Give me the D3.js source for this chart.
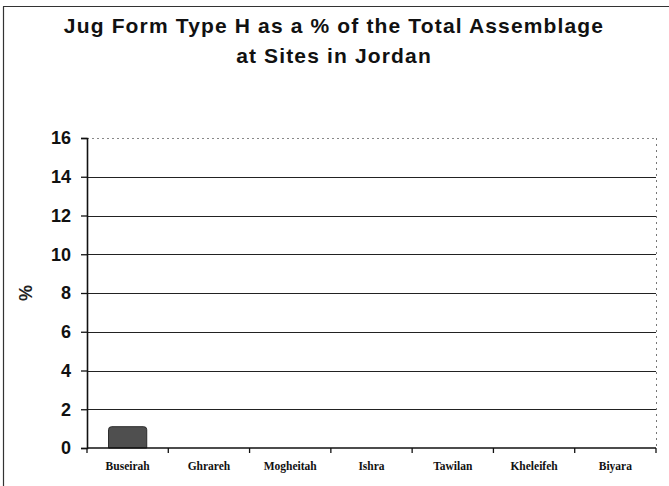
<!DOCTYPE html>
<html>
<head>
<meta charset="utf-8">
<script src="https://cdn.jsdelivr.net/npm/d3@7"></script>
<style>
  html, body { margin: 0; padding: 0; background: #fff; }
  svg { display: block; }
</style>
</head>
<body>
<svg id="chart" width="669" height="486"></svg>
<script>
// Sites and the share of jug form type H at each (percent of total assemblage)
const sites = ["Buseirah", "Ghrareh", "Mogheitah", "Ishra", "Tawilan", "Kheleifeh", "Biyara"];
const percentValues = [1.1, 0, 0, 0, 0, 0, 0];
const yTickValues = [0, 2, 4, 6, 8, 10, 12, 14, 16];
const titleLines = ["Jug Form Type H as a % of the Total Assemblage", "at Sites in Jordan"];

const svg = d3.select("#chart");
const W = 669, H = 486;
const plot = { left: 87, right: 656, top: 138, bottom: 448 };

// outer frame (left and top edges)
svg.append("line").attr("x1", 3.5).attr("x2", 3.5).attr("y1", 6.5).attr("y2", H)
  .attr("stroke", "#333").attr("stroke-width", 1.2);
svg.append("line").attr("x1", 3).attr("x2", W).attr("y1", 6.5).attr("y2", 6.5)
  .attr("stroke", "#333").attr("stroke-width", 1.2);

// title
svg.append("g").selectAll("text").data(titleLines).join("text")
  .attr("x", 334)
  .attr("y", (d, i) => 33 + i * 30)
  .attr("text-anchor", "middle")
  .attr("font-family", "Liberation Sans, Arial, sans-serif")
  .attr("font-weight", "bold")
  .attr("font-size", 21)
  .attr("letter-spacing", 1.15)
  .attr("fill", "#111")
  .text(d => d);

const x = d3.scaleBand().domain(sites).range([plot.left, plot.right])
  .paddingInner(0.53).paddingOuter(0.265);
const y = d3.scaleLinear().domain([0, 16]).range([plot.bottom, plot.top]);

// horizontal gridlines
svg.append("g").selectAll("line").data(yTickValues.filter(v => v > 0)).join("line")
  .attr("x1", plot.left).attr("x2", plot.right)
  .attr("y1", d => Math.round(y(d)) + 0.5).attr("y2", d => Math.round(y(d)) + 0.5)
  .attr("stroke", d => d === 16 ? "#888" : "#222")
  .attr("stroke-width", d => d === 16 ? 1 : 1.1)
  .attr("stroke-dasharray", d => d === 16 ? "2,3" : null);

// right edge of plot area (dotted)
svg.append("line").attr("x1", plot.right + 0.5).attr("x2", plot.right + 0.5)
  .attr("y1", plot.top).attr("y2", plot.bottom)
  .attr("stroke", "#777").attr("stroke-width", 1).attr("stroke-dasharray", "2,4");

// bars
const barTopRound = 3;
svg.append("g").selectAll("path").data(sites.map((s, i) => ({ site: s, v: percentValues[i] })).filter(d => d.v > 0))
  .join("path")
  .attr("d", d => {
    const x0 = x(d.site), w = x.bandwidth(), y0 = y(d.v), yb = y(0), r = barTopRound;
    return `M${x0},${yb}V${y0 + r}Q${x0},${y0} ${x0 + r},${y0}H${x0 + w - r}Q${x0 + w},${y0} ${x0 + w},${y0 + r}V${yb}Z`;
  })
  .attr("fill", "#4f4f4f")
  .attr("stroke", "#2a2a2a")
  .attr("stroke-width", 1);

// y axis
const yAxis = d3.axisLeft(y).tickValues(yTickValues).tickSize(6).tickPadding(10).tickFormat(d3.format("d"));
const gy = svg.append("g").attr("transform", `translate(${plot.left},0)`).call(yAxis);
gy.select(".domain").attr("stroke", "#111").attr("stroke-width", 1.6);
gy.selectAll(".tick line").attr("stroke", "#111").attr("stroke-width", 1.3);
gy.selectAll(".tick text")
  .attr("font-family", "Liberation Sans, Arial, sans-serif")
  .attr("font-weight", "bold")
  .attr("font-size", 18)
  .attr("fill", "#111");

// x axis: baseline with tick marks at category boundaries
const gx = svg.append("g").attr("transform", `translate(0,${plot.bottom})`);
gx.append("line").attr("x1", plot.left).attr("x2", plot.right).attr("y1", 0).attr("y2", 0)
  .attr("stroke", "#111").attr("stroke-width", 1.6);
const boundaries = sites.map(s => x(s) - x.step() * x.paddingOuter()).concat([plot.right]);
gx.selectAll("line.tk").data(boundaries).join("line").attr("class", "tk")
  .attr("x1", d => d).attr("x2", d => d).attr("y1", 0).attr("y2", 5)
  .attr("stroke", "#111").attr("stroke-width", 1.3);
gx.selectAll("text").data(sites).join("text")
  .attr("x", d => x(d) + x.bandwidth() / 2)
  .attr("y", 22)
  .attr("text-anchor", "middle")
  .attr("font-family", "Liberation Serif, Times New Roman, serif")
  .attr("font-weight", "bold")
  .attr("font-size", 11.5)
  .attr("fill", "#111")
  .text(d => d);

// y axis title
svg.append("text")
  .attr("transform", "translate(32,293) rotate(-90)")
  .attr("text-anchor", "middle")
  .attr("font-family", "Liberation Sans, Arial, sans-serif")
  .attr("font-weight", "bold")
  .attr("font-size", 18)
  .attr("fill", "#222")
  .text("%");
</script>
</body>
</html>
